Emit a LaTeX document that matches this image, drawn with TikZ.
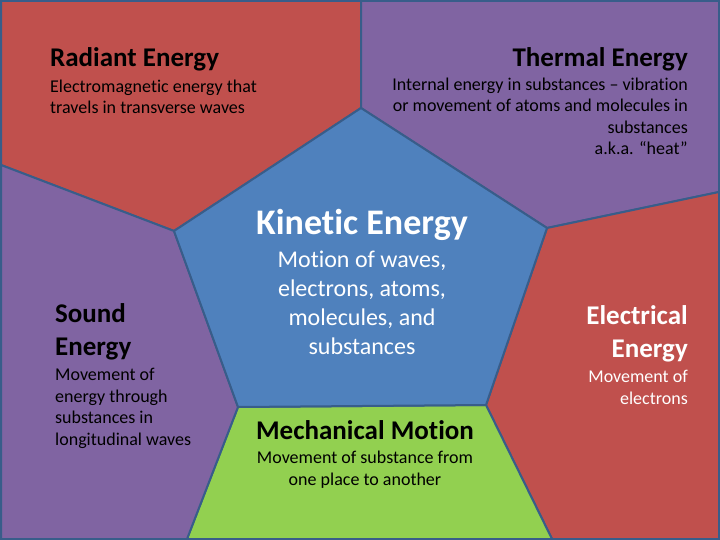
\documentclass[tikz,border=0pt]{standalone}
\usepackage{fontspec}
\setmainfont{Carlito}[Ligatures={TeX,NoCommon}]
\usepackage{xcolor}
\usepackage{tikz}

\definecolor{edgeblue}{HTML}{385D8A}
\definecolor{radred}{HTML}{C0504D}
\definecolor{thermpurple}{HTML}{8064A2}
\definecolor{kinblue}{HTML}{4F81BD}
\definecolor{mechgreen}{HTML}{92D050}

\begin{document}
\begin{tikzpicture}[
        x=1pt, y=-1pt,
        region/.style={draw=edgeblue, line width=2pt, line join=round},
        title/.style={inner sep=0pt, font=\fontsize{27}{33}\selectfont\bfseries},
        bigtitle/.style={inner sep=0pt, font=\fontsize{36}{43}\selectfont\bfseries, text=white},
        body/.style={inner sep=0pt, font=\fontsize{18}{21.5}\selectfont},
        bigbody/.style={inner sep=0pt, font=\fontsize{24}{29}\selectfont, text=white}
      ]
        \useasboundingbox (0,0) rectangle (720,540);

        % Kinetic pentagon corners
        \coordinate (kt) at (361,108);
        \coordinate (kl) at (174,231);
        \coordinate (kr) at (547,228);
        \coordinate (kbl) at (238,407);
        \coordinate (kbr) at (486,405);

        % Frame points
        \coordinate (tl) at (1,1);
        \coordinate (tm) at (361,1);
        \coordinate (tr) at (719,1);
        \coordinate (lm) at (1,165);
        \coordinate (rm) at (719,192);
        \coordinate (bl) at (1,539);
        \coordinate (bml) at (187,539);
        \coordinate (bmr) at (552,539);
        \coordinate (br) at (719,539);

        % Regions
        \fill[edgeblue] (0,0) rectangle (720,540);
        \filldraw[region, fill=radred] (tl) -- (tm) -- (kt) -- (kl) -- (lm) -- cycle;
        \filldraw[region, fill=thermpurple] (tm) -- (tr) -- (rm) -- (kr) -- (kt) -- cycle;
        \filldraw[region, fill=radred] (kr) -- (rm) -- (br) -- (bmr) -- (kbr) -- cycle;
        \filldraw[region, fill=mechgreen] (kbl) -- (kbr) -- (bmr) -- (bml) -- cycle;
        \filldraw[region, fill=thermpurple] (lm) -- (kl) -- (kbl) -- (bml) -- (bl) -- cycle;
        \filldraw[region, fill=kinblue] (kt) -- (kr) -- (kbr) -- (kbl) -- (kl) -- cycle;

        % Radiant (multi-line nodes sit on their last baseline)
        \node[title, anchor=base west] (radtitle) at (50,67) {Radiant Energy};
        \node[body, anchor=base west, align=left] (radtext) at (50,114)
          {Electromagnetic energy that\\travels in transverse waves};

        % Thermal
        \node[title, anchor=base east] (thermtitle) at (688,67) {Thermal Energy};
        \node[body, anchor=base east, align=right] (thermtext) at (688,155)
          {Internal energy in substances -- vibration\\or movement of atoms and molecules in\\substances\\a.k.a. ``heat''};

        % Kinetic
        \node[bigtitle, anchor=base] (kintitle) at (362,235) {Kinetic Energy};
        \node[bigbody, anchor=base, align=center] (kintext) at (362,354)
          {Motion of waves,\\electrons, atoms,\\molecules, and\\substances};

        % Sound
        \node[title, anchor=base west, align=left] (soundtitle) at (55,355) {Sound\\Energy};
        \node[body, anchor=base west, align=left] (soundtext) at (55,445)
          {Movement of\\energy through\\substances in\\longitudinal waves};

        % Electrical
        \node[title, anchor=base east, align=right, text=white] (electitle) at (688,357) {Electrical\\Energy};
        \node[body, anchor=base east, align=right, text=white] (electext) at (688,404)
          {Movement of\\electrons};

        % Mechanical
        \node[title, anchor=base] (mechtitle) at (365,439) {Mechanical Motion};
        \node[body, anchor=base, align=center] (mechtext) at (365,485)
          {Movement of substance from\\one place to another};
      \end{tikzpicture}
\end{document}
